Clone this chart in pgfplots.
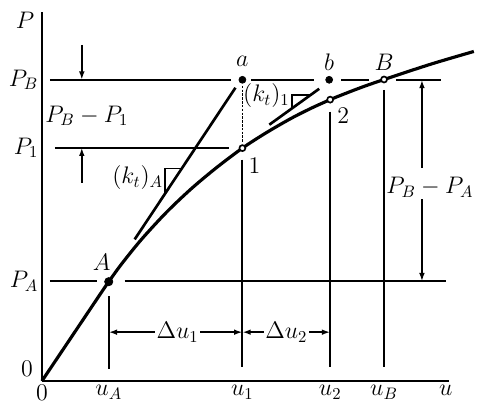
\documentclass[border=0pt]{standalone}
\usepackage{pgfplots}
\pgfplotsset{compat=1.18}
\usetikzlibrary{arrows.meta}
\newcommand\lab{\Large}
\begin{document}
\begin{tikzpicture}[font=\lab,
    xl/.style={anchor=north, inner sep=2.5pt},
    yl/.style={anchor=east, inner sep=2pt}]
\begin{axis}[
    x=0.6pt, y=0.6pt,
    xmin=0, xmax=408, ymin=0, ymax=370,
    axis x line=bottom, axis y line=left,
    axis line style={-, line width=1.2pt},
    xtick=\empty, ytick=\empty,
    clip=false,
    thinl/.style={black, line width=1.1pt},
    arr/.style={thinl, -{Latex[length=5pt,width=3.4pt]}},
]
% frame of the picture
\path (axis cs:-42,-32) rectangle (axis cs:437,382);

% load-displacement curve
\addplot[black, line width=1.9pt, smooth] coordinates {
    (0,0)(30,44.7)(60,89.4)(67,99.6)(80,117.5)(100,142.2)(125,169.3)
    (150,193)(175,213.9)(201,233.5)(225,249)(250,263.4)(270,273.5)
    (289,282.1)(300,286.6)(320,294.3)(343,302.3)(390,317.7)(433,330.4)};

% horizontal levels
\addplot[thinl] coordinates {(8,302)(190,302)};
\addplot[thinl] coordinates {(210,302)(273,302)};
\addplot[thinl] coordinates {(300,302)(328,302)};
\addplot[thinl] coordinates {(355,302)(400,302)};
\addplot[thinl] coordinates {(13,234)(188,234)};
\addplot[thinl] coordinates {(8,100)(55,100)};
\addplot[thinl] coordinates {(83,100)(405,100)};

% vertical lines
\addplot[thinl] coordinates {(67,85)(67,12)};
\addplot[black, line width=0.9pt, dash pattern=on 1.5pt off 0.8pt] coordinates {(201,296)(201,240)};
\addplot[thinl] coordinates {(201,222)(201,14)};
\addplot[thinl] coordinates {(289,270)(289,14)};
\addplot[thinl] coordinates {(343,292)(343,14)};

% tangent lines
\addplot[black, line width=1.6pt] coordinates {(93,142)(194,294)};
\addplot[black, line width=1.6pt] coordinates {(228,257)(278,293)};

% slope triangles
\addplot[thinl] coordinates {(123,187)(123,213)(140,213)};
\addplot[thinl] coordinates {(251,274)(251,287)(269,287)};

% dimension arrows
\addplot[arr] coordinates {(40,337)(40,302)};
\addplot[arr] coordinates {(40,199)(40,234)};
\addplot[arr] coordinates {(381,214)(381,302)};
\addplot[arr] coordinates {(381,182)(381,100)};
\addplot[thinl, {Latex[length=5pt,width=3.4pt]}-{Latex[length=5pt,width=3.4pt]}] coordinates {(67,49)(201,49)};
\addplot[thinl, {Latex[length=5pt,width=3.4pt]}-{Latex[length=5pt,width=3.4pt]}] coordinates {(201,49)(289,49)};

% points
\addplot[only marks, mark=*, mark size=2.5pt, black] coordinates {(67,99.6)};
\addplot[only marks, mark=*, mark size=2.1pt, black] coordinates {(201,302)(288,302)};
\addplot[only marks, mark=*, mark size=1.8pt, mark options={fill=white, draw=black, line width=1pt}]
    coordinates {(201,233.5)(289,282.1)(343,302.3)};

% axis labels
\node[xl] at (axis cs:0,0) {$0$};
\node[xl] at (axis cs:67,0) {$u_A$};
\node[xl] at (axis cs:201,0) {$u_1$};
\node[xl] at (axis cs:289,0) {$u_2$};
\node[xl] at (axis cs:343,0) {$u_B$};
\node[xl] at (axis cs:405,0) {$u$};
\node[yl] at (axis cs:0,100) {$P_A$};
\node[yl] at (axis cs:0,234) {$P_1$};
\node[yl] at (axis cs:0,302) {$P_B$};
\node at (axis cs:-17,362) {$P$};
\node at (axis cs:-15,12) {$0$};

% point and dimension labels
\node at (axis cs:60,119) {$A$};
\node at (axis cs:201,320) {$a$};
\node at (axis cs:288,320) {$b$};
\node at (axis cs:343,320) {$B$};
\node at (axis cs:213,216) {$1$};
\node at (axis cs:302,266) {$2$};
\node at (axis cs:45,266) {$P_B - P_1$};
\node at (axis cs:389,194) {$P_B - P_A$};
\node at (axis cs:96,204) {$(k_t)_A$};
\node at (axis cs:225,286) {$(k_t)_1$};
\node[fill=white, inner sep=1pt] at (axis cs:136,49) {$\Delta u_1$};
\node[fill=white, inner sep=1pt] at (axis cs:245,49) {$\Delta u_2$};
\end{axis}
\end{tikzpicture}
\end{document}
